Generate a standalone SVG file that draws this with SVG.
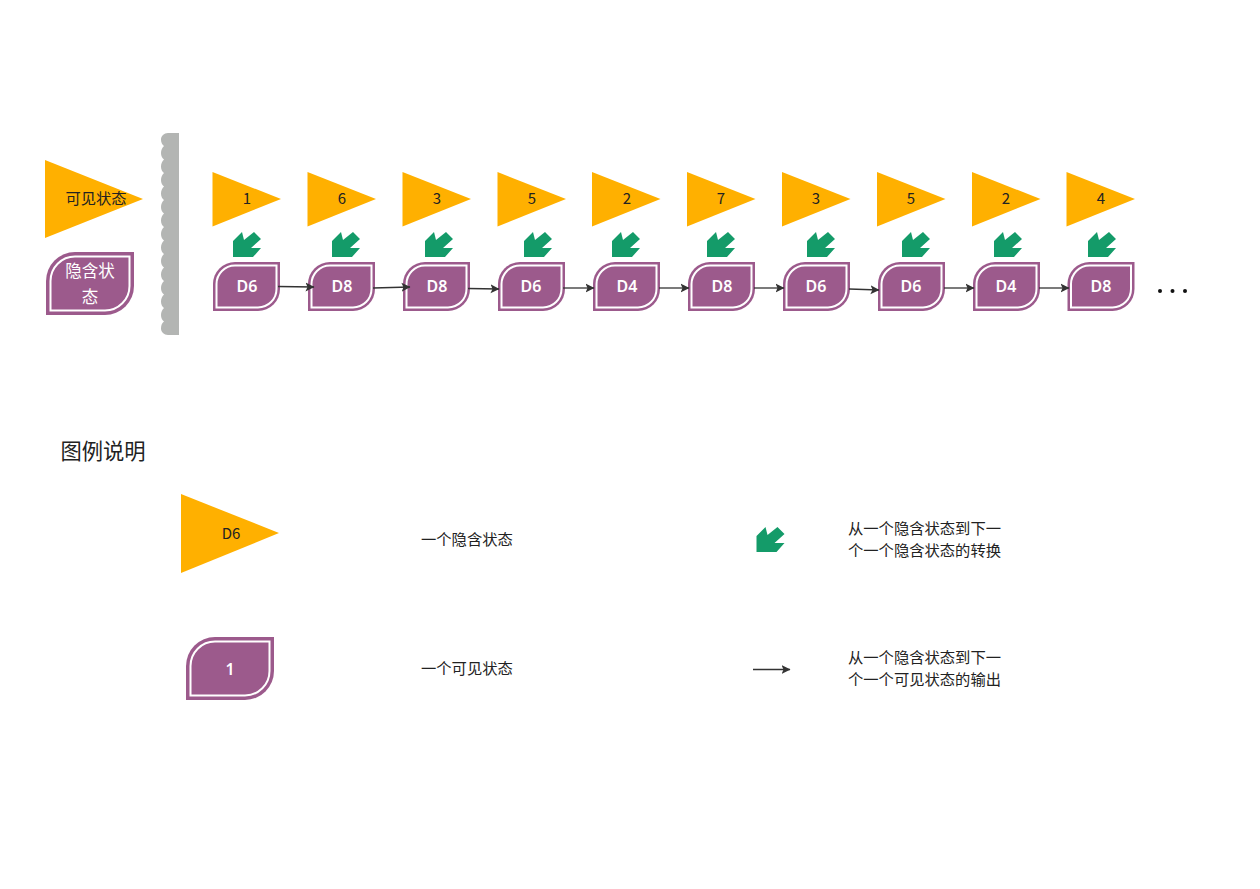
<svg xmlns="http://www.w3.org/2000/svg" width="1260" height="889" viewBox="0 0 1260 889">
<style>
.tri{fill:#ffb000}
.go{fill:#149b69}
.lo{fill:#9c5a8c}
.li{fill:none;stroke:#fff;stroke-width:2}
.t{font-family:"Noto Sans CJK SC","Liberation Sans",sans-serif;font-size:15.300px;fill:#222;text-anchor:middle}
.n{font-size:15px}
.s{text-anchor:start}
.d{font-family:"Noto Sans","Lato",sans-serif;font-size:16px;font-weight:600;fill:#fff;text-anchor:middle}
.w{font-family:"Noto Sans CJK SC",sans-serif;font-size:16.500px;fill:#fff;text-anchor:middle}
.c{fill:none;stroke:#333;stroke-width:1.300;marker-end:url(#ah)}
</style>
<defs>
<marker id="ah" markerUnits="userSpaceOnUse" markerWidth="10" markerHeight="10" refX="8.500" refY="5" orient="auto"><path d="M0 0.500L9 5L0 9.500L2 5Z" fill="#333"/></marker>
<polygon id="tr" class="tri" points="0,0 68.500,27 0,54.500"/>
<polygon id="ga" class="go" points="0,9 9,0 11,8 21,0 28,7 18,16 28,16 20,25 0,25"/>
<g id="lf"><path class="lo" d="M0 49V22A22 22 0 0 1 22 0H67V27A22 22 0 0 1 45 49Z"/><path class="li" d="M3.500 45.500V22A18.500 18.500 0 0 1 22 3.500H63.500V27A18.500 18.500 0 0 1 45 45.500Z"/></g>
<g id="lb"><path class="lo" d="M0 63V29A29 29 0 0 1 29 0H88V34A29 29 0 0 1 59 63Z"/><path class="li" d="M4.500 58.500V29A24.500 24.500 0 0 1 29 4.500H83.500V34A24.500 24.500 0 0 1 59 58.500Z"/></g>
</defs>
<g id="visible-legend"><polygon class="tri" points="45,160 143,199 45,238"/><text class="t" x="96" y="204">可见状态</text></g>
<g id="hidden-legend"><use href="#lb" x="46" y="252"/><text class="w" x="90" y="277">隐含状</text><text class="w" x="90" y="303">态</text></g>
<g id="wall"><path fill="#b3b5b3" d="M179 133V335H168C164 335 161 332 161 328.500C161 325 162 323 164 321.500C162 320 161 318 161 315C161 312 162 310 164 308C162 306.500 161 304.500 161 301.500C161 298.500 162 296.500 164 294.500C162 293 161 291 161 288C161 285 162 283 164 281C162 279.500 161 277.500 161 274.500C161 271.500 162 269.500 164 267.500C162 266 161 264 161 261C161 258 162 256 164 254C162 252.500 161 250.500 161 247.500C161 244.500 162 242.500 164 240.500C162 239 161 237 161 234C161 231 162 229 164 227C162 225.500 161 223.500 161 220.500C161 217.500 162 215.500 164 213.500C162 212 161 210 161 207C161 204 162 202 164 200C162 198.500 161 196.500 161 193.500C161 190.500 162 188.500 164 186.500C162 185 161 183 161 180C161 177 162 175 164 173C162 171.500 161 169.500 161 166.500C161 163.500 162 161.500 164 159.500C162 158 161 156 161 153C161 150 162 148 164 146C162 144.500 161 142.500 161 139.500C161 136 164 133 168 133Z"/></g>
<g id="v1"><use href="#tr" x="212.500" y="172"/><text class="t n" x="247" y="204">1</text></g>
<g id="v2"><use href="#tr" x="307.500" y="172"/><text class="t n" x="342" y="204">6</text></g>
<g id="v3"><use href="#tr" x="402.500" y="172"/><text class="t n" x="437" y="204">3</text></g>
<g id="v4"><use href="#tr" x="497.500" y="172"/><text class="t n" x="532" y="204">5</text></g>
<g id="v5"><use href="#tr" x="592" y="172"/><text class="t n" x="627" y="204">2</text></g>
<g id="v6"><use href="#tr" x="687" y="172"/><text class="t n" x="721" y="204">7</text></g>
<g id="v7"><use href="#tr" x="782" y="172"/><text class="t n" x="816" y="204">3</text></g>
<g id="v8"><use href="#tr" x="877" y="172"/><text class="t n" x="911" y="204">5</text></g>
<g id="v9"><use href="#tr" x="972" y="172"/><text class="t n" x="1006" y="204">2</text></g>
<g id="v10"><use href="#tr" x="1066.500" y="172"/><text class="t n" x="1101" y="204">4</text></g>
<g id="t1"><use href="#ga" x="233" y="232"/></g>
<g id="t2"><use href="#ga" x="332" y="232"/></g>
<g id="t3"><use href="#ga" x="425" y="232"/></g>
<g id="t4"><use href="#ga" x="524" y="232"/></g>
<g id="t5"><use href="#ga" x="612" y="232"/></g>
<g id="t6"><use href="#ga" x="707" y="232"/></g>
<g id="t7"><use href="#ga" x="807" y="232"/></g>
<g id="t8"><use href="#ga" x="902" y="232"/></g>
<g id="t9"><use href="#ga" x="994" y="232"/></g>
<g id="t10"><use href="#ga" x="1088" y="232"/></g>
<g id="h1"><use href="#lf" x="213" y="262"/><text class="d" x="247" y="291.500">D6</text></g>
<g id="h2"><use href="#lf" x="308" y="262"/><text class="d" x="342" y="291.500">D8</text></g>
<g id="h3"><use href="#lf" x="403" y="262"/><text class="d" x="437" y="291.500">D8</text></g>
<g id="h4"><use href="#lf" x="498" y="262"/><text class="d" x="531" y="291.500">D6</text></g>
<g id="h5"><use href="#lf" x="593" y="262"/><text class="d" x="627" y="291.500">D4</text></g>
<g id="h6"><use href="#lf" x="688" y="262"/><text class="d" x="722" y="291.500">D8</text></g>
<g id="h7"><use href="#lf" x="783" y="262"/><text class="d" x="816" y="291.500">D6</text></g>
<g id="h8"><use href="#lf" x="878" y="262"/><text class="d" x="911" y="291.500">D6</text></g>
<g id="h9"><use href="#lf" x="973" y="262"/><text class="d" x="1006" y="291.500">D4</text></g>
<g id="h10"><use href="#lf" x="1067.500" y="262"/><text class="d" x="1101" y="291.500">D8</text></g>
<g id="connectors">
<path class="c" d="M278 286.500L314 287"/>
<path class="c" d="M373 288L410 287"/>
<path class="c" d="M468 288.500L499 289"/>
<path class="c" d="M563 288L594 288"/>
<path class="c" d="M659 288L689 288"/>
<path class="c" d="M754 288L784 288"/>
<path class="c" d="M849 289L879 290"/>
<path class="c" d="M944 288L974 288"/>
<path class="c" d="M1039 288L1069 288"/>
<path class="c" d="M753 669.500H790"/>
</g>
<g id="ellipsis" fill="#111"><circle cx="1160" cy="291" r="2"/><circle cx="1172.500" cy="291" r="2"/><circle cx="1185" cy="291" r="2"/></g>
<text class="t" x="103" y="459" style="font-size:21.300px">图例说明</text>
<g id="legend-tri"><polygon class="tri" points="181,494 279,533 181,573"/><text class="t n" x="231" y="538.500">D6</text></g>
<text class="t s" x="421" y="545">一个隐含状态</text>
<g id="legend-arrow"><use href="#ga" x="756.500" y="527"/></g>
<text class="t s" x="848" y="534">从一个隐含状态到下一</text>
<text class="t s" x="848" y="556">个一个隐含状态的转换</text>
<g id="legend-leaf"><use href="#lb" x="186" y="637"/><text class="d" x="230" y="674.500">1</text></g>
<text class="t s" x="421" y="674">一个可见状态</text>
<text class="t s" x="848" y="663">从一个隐含状态到下一</text>
<text class="t s" x="848" y="685">个一个可见状态的输出</text>
</svg>
